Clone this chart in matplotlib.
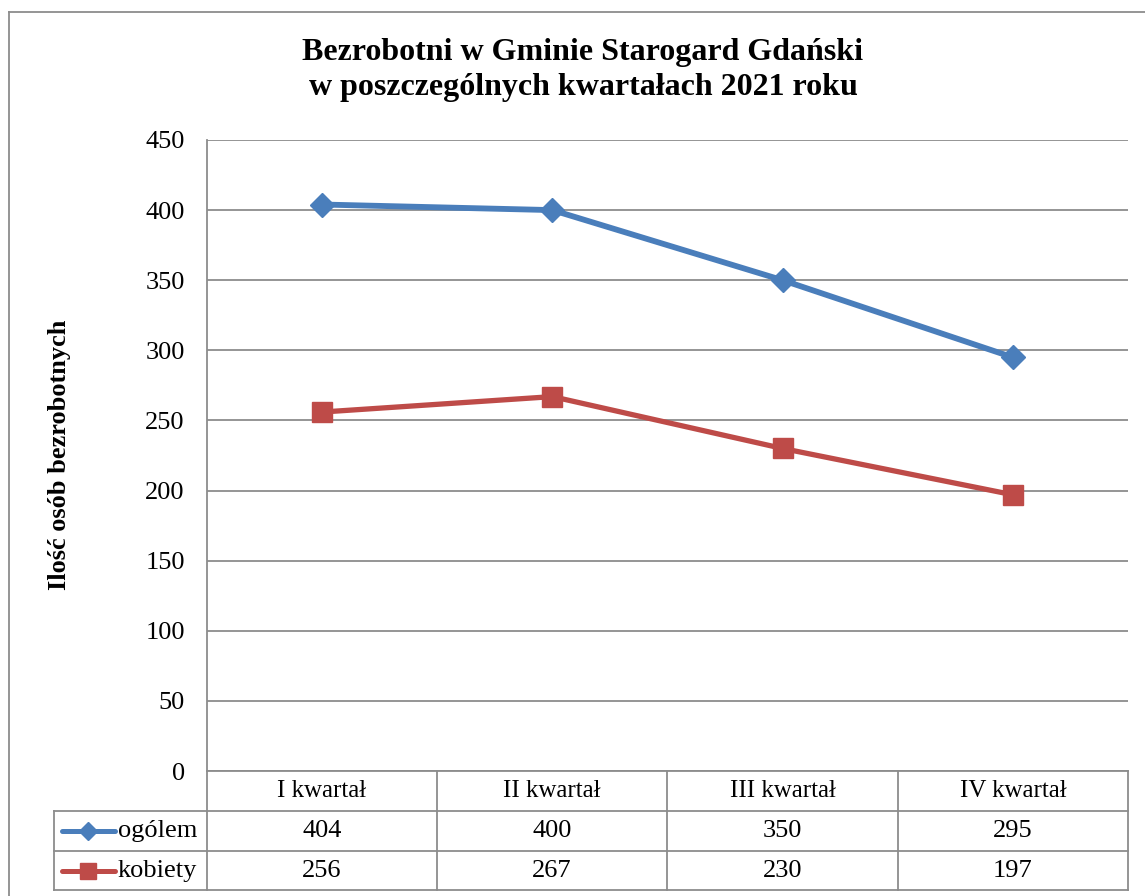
import matplotlib
matplotlib.use('Agg')
import matplotlib.pyplot as plt
from matplotlib.lines import Line2D

# ── Data ──────────────────────────────────────────────────────────────────────
quarters = ['I kwartał', 'II kwartał', 'III kwartał', 'IV kwartał']
ogolem = [404, 400, 350, 295]
kobiety = [256, 267, 230, 197]
y_ticks = [0, 50, 100, 150, 200, 250, 300, 350, 400, 450]

title = 'Bezrobotni w Gminie Starogard Gdański\nw poszczególnych kwartałach 2021 roku'
ylabel = 'Ilość osób bezrobotnych'

BLUE = '#4a7ebb'
RED = '#be4b48'
GRID = '#8c8c8c'
W, H = 1145, 896

plt.rcParams['font.family'] = ['Liberation Serif', 'DejaVu Serif']


def fx(px):
    return px / W


def fy(py):
    return 1 - py / H


fig = plt.figure(figsize=(W / 100, H / 100), dpi=100)

# plot area in pixel coords: left 207, top 140, right 1128, bottom 771
left, top, right, bottom = 207, 140, 1128, 771
ax = fig.add_axes([fx(left), fy(bottom), fx(right - left), (bottom - top) / H])

x = list(range(len(quarters)))
ax.plot(x, ogolem, color=BLUE, lw=4.2, marker='D', ms=12, mec=BLUE, mfc=BLUE,
        solid_joinstyle='round', zorder=3)
ax.plot(x, kobiety, color=RED, lw=3.8, marker='s', ms=14.5, mec=RED, mfc=RED,
        solid_joinstyle='round', zorder=3)

ax.set_xlim(-0.5, len(quarters) - 0.5)
ax.set_ylim(0, 450)
ax.set_yticks(y_ticks)
ax.set_yticklabels([str(t) for t in y_ticks], fontsize=19)
ax.tick_params(axis='y', length=0, pad=16)
ax.set_xticks([])
ax.grid(axis='y', color=GRID, lw=1.3)
ax.set_axisbelow(True)
for s in ['top', 'right', 'bottom']:
    ax.spines[s].set_visible(False)
ax.spines['left'].set_color(GRID)
ax.spines['left'].set_linewidth(1.3)

# ── Data table below the plot ─────────────────────────────────────────────────
cols = [207, 437, 667, 898, 1128]
rows = [771, 811, 851, 890]
leg_left = 54


def hline(x0, x1, y):
    fig.add_artist(Line2D([fx(x0), fx(x1)], [fy(y), fy(y)], color=GRID, lw=1.3))


def vline(xp, y0, y1):
    fig.add_artist(Line2D([fx(xp), fx(xp)], [fy(y0), fy(y1)], color=GRID, lw=1.3))


hline(cols[0], cols[-1], rows[0])
for r in rows[1:]:
    hline(leg_left, cols[-1], r)
for c in cols:
    vline(c, rows[0], rows[-1])
vline(leg_left, rows[1], rows[-1])

for i, q in enumerate(quarters):
    cx = (cols[i] + cols[i + 1]) / 2
    fig.text(fx(cx), fy((rows[0] + rows[1]) / 2), q, ha='center', va='center', fontsize=18)
    fig.text(fx(cx), fy((rows[1] + rows[2]) / 2), str(ogolem[i]), ha='center', va='center', fontsize=19)
    fig.text(fx(cx), fy((rows[2] + rows[3]) / 2), str(kobiety[i]), ha='center', va='center', fontsize=19)

# legend keys inside the table
for (name, color, mk, ms, lw), (r0, r1) in zip(
        [('ogólem', BLUE, 'D', 9, 3.6), ('kobiety', RED, 's', 12, 3.6)],
        [(rows[1], rows[2]), (rows[2], rows[3])]):
    yc = fy((r0 + r1) / 2)
    fig.add_artist(Line2D([fx(62), fx(115)], [yc, yc], color=color, lw=lw,
                          solid_capstyle='round'))
    fig.add_artist(Line2D([fx(88)], [yc], color=color, marker=mk, ms=ms, mec=color, mfc=color))
    fig.text(fx(118), yc, name, ha='left', va='center', fontsize=19)

# ── Title, y label, outer border ──────────────────────────────────────────────
fig.text(fx(583), fy(70), title, ha='center', va='center', fontsize=23,
         fontweight='bold', linespacing=1.25)
fig.text(fx(60), fy(455), ylabel, ha='center', va='center', rotation=90,
         fontsize=19, fontweight='bold')

fig.add_artist(Line2D([fx(9), fx(9)], [fy(12), 0], color=GRID, lw=1.3))
fig.add_artist(Line2D([fx(9), 1], [fy(12), fy(12)], color=GRID, lw=1.3))

fig.savefig('out.png', dpi=100)
